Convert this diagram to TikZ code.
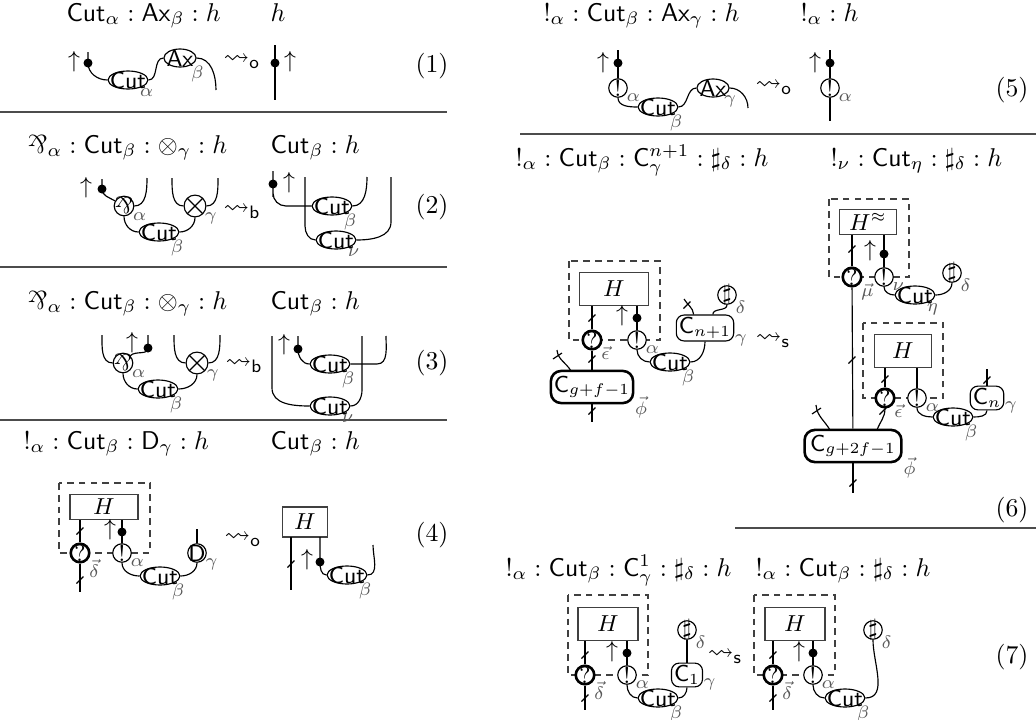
\documentclass[tikz,border=0pt]{standalone}
\usepackage{amsmath,amssymb}
\usepackage{graphicx}
\usetikzlibrary{shapes.geometric,calc}
\newcommand{\prsym}{\mathord{\rotatebox[origin=c]{180}{$\&$}}}
\tikzset{
  wire/.style={line width=0.45pt},
  lab/.style={font=\scriptsize, text=black!65, inner sep=0pt},
  sb/.style={label={[lab]-35:{#1}}},
  sbr/.style={label={[lab]-12:{#1}}},
  cutn/.style={ellipse, draw, fill=white, line width=0.45pt, inner sep=-4pt, minimum width=15.5pt, minimum height=7pt, font=\sffamily\small},
  axn/.style={cutn, minimum width=12.5pt},
  cnode/.style={circle, draw, fill=white, line width=0.45pt, inner sep=-3pt, minimum size=7.2pt, font=\small},
  qnode/.style={cnode, line width=1pt},
  pnode/.style={cnode, minimum size=7.6pt},
  tnode/.style={cnode, minimum size=7.6pt, path picture={\draw[line width=0.45pt] (path picture bounding box.north west) -- (path picture bounding box.south east) (path picture bounding box.south west) -- (path picture bounding box.north east);}},
  dotn/.style={circle, fill, inner sep=0pt, minimum size=3.5pt},
  hbox/.style={rectangle, draw=black!75, line width=0.5pt, inner sep=0pt, font=\small},
  crect/.style={rectangle, rounded corners=3pt, draw, fill=white, line width=0.45pt, inner sep=1pt, minimum height=7.5pt, font=\sffamily\small},
  gcrect/.style={crect, line width=1pt, rounded corners=4pt, minimum height=12.5pt},
  dbox/.style={draw=black!75, line width=0.45pt, dash pattern=on 2.6pt off 2pt},
  ttl/.style={anchor=base west, inner sep=0pt},
  sepl/.style={line width=0.55pt, draw=black!70},
  arr/.style={font=\small, inner sep=0pt},
  slashmk/.pic={\draw[line width=0.45pt] (-3.5,3.5) -- (3.5,-3.5);},
  eqn/.style={inner sep=0pt},
}
\begin{document}
\begin{tikzpicture}[x=0.389pt,y=-0.389pt]
\useasboundingbox (0,0) rectangle (1036,720);
% separators
\draw[sepl] (0,112) -- (447,112);
\draw[sepl] (0,267) -- (447,267);
\draw[sepl] (0,420) -- (447,420);
\draw[sepl] (520,134) -- (1036,134);
\draw[sepl] (735,528) -- (1036,528);

% ---------- (1)
\node[ttl] at (66,21) {$\mathsf{Cut}_\alpha : \mathsf{Ax}_\beta : h$};
\node[ttl] at (270,21) {$h$};
\node[arr] at (74,62) {$\uparrow$};
\node[dotn] (d1) at (88,63) {};
\node[cutn, sb=$\alpha$] (c1) at (128,80) {Cut};
\node[axn, sb=$\beta$] (a1) at (180,58) {Ax};
\draw[wire] (88,52) -- (d1.center) to[out=-90,in=180] (c1.west);
\draw[wire] (c1.east) to[out=0,in=180] (a1.west);
\draw[wire] (a1.east) to[out=0,in=90] (216,90);
\node (lt1) at (242,62) {$\leadsto_{\mathsf{o}}$};
\coordinate (r1t) at (275,45);
\coordinate (r1b) at (275,100);
\draw[wire] (r1t) -- (r1b);
\node[dotn] (d1r) at (275,63) {};
\node[arr] at (290,62) {$\uparrow$};
\node[eqn] at (432,66) {(1)};

% ---------- (2)
\node[ttl] at (27,153) {$\prsym_\alpha : \mathsf{Cut}_\beta : \otimes_\gamma : h$};
\node[ttl] at (270,153) {$\mathsf{Cut}_\beta : h$};
\node[arr] at (86,188) {$\uparrow$};
\node[dotn] (d2) at (102,189) {};
\node[pnode, sb=$\alpha$] (p2) at (124,206) {$\prsym$};
\node[cutn, sb=$\beta$] (c2) at (159,232) {Cut};
\node[tnode, sb=$\gamma$] (t2) at (195,206) {};
\draw[wire] (102,179) -- (d2.center) to[out=-90,in=150] (p2.150);
\draw[wire] (p2.east) to[out=0,in=-90] (147,178);
\draw[wire] (p2.south) to[out=-90,in=180] (c2.west);
\draw[wire] (c2.east) to[out=0,in=-90] (t2.south);
\draw[wire] (172,178) to[out=-90,in=180] (t2.west);
\draw[wire] (t2.east) to[out=0,in=-90] (218,178);
\node at (242,212) {$\leadsto_{\mathsf{b}}$};
\node[dotn] (d2r) at (273,184) {};
\node[arr] at (289,183) {$\uparrow$};
\node[cutn, sb=$\beta$] (c2b) at (332,206) {Cut};
\node[cutn, sb=$\nu$] (c2n) at (336,240) {Cut};
\draw[wire, rounded corners=5] (273,176) -- (d2r.center) |- (c2b.west);
\draw[wire] (305,177) -- (305,226) to[out=-90,in=180] (c2n.west);
\draw[wire] (c2b.east) to[out=0,in=-90] (367,177);
\draw[wire] (c2n.east) to[out=0,in=-90] (391,222) -- (391,177);
\node[eqn] at (432,207) {(2)};

% ---------- (3)
\node[ttl] at (27,309) {$\prsym_\alpha : \mathsf{Cut}_\beta : \otimes_\gamma : h$};
\node[ttl] at (270,309) {$\mathsf{Cut}_\beta : h$};
\node[pnode, sb=$\alpha$] (p3) at (123,363) {$\prsym$};
\node[arr] at (132,343) {$\uparrow$};
\node[dotn] (d3) at (148,348) {};
\node[cutn, sb=$\beta$] (c3) at (158,389) {Cut};
\node[tnode, sb=$\gamma$] (t3) at (197,363) {};
\draw[wire] (148,335) -- (d3.center) to[out=-90,in=45] (p3.45);
\draw[wire] (p3.west) to[out=180,in=-90] (102,335);
\draw[wire] (p3.south) to[out=-90,in=180] (c3.west);
\draw[wire] (c3.east) to[out=0,in=-90] (t3.south);
\draw[wire] (174,335) to[out=-90,in=180] (t3.west);
\draw[wire] (t3.east) to[out=0,in=-90] (220,335);
\node at (244,366) {$\leadsto_{\mathsf{b}}$};
\node[arr] at (284,345) {$\uparrow$};
\node[dotn] (d3r) at (298,349) {};
\node[cutn, sb=$\beta$] (c3b) at (330,364) {Cut};
\node[cutn, sb=$\nu$] (c3n) at (330,406) {Cut};
\draw[wire] (298,336) -- (d3r.center) to[out=-90,in=180] (c3b.west);
\draw[wire] (272,336) -- (272,388) to[out=-90,in=180] (c3n.west);
\draw[wire] (c3b.east) -- (377,364) to[out=0,in=-90] (386,336);
\draw[wire] (c3n.east) to[out=0,in=-90] (362,390) -- (362,336);
\node[eqn] at (432,363) {(3)};

% ---------- (4)
\node[ttl] at (23,449) {$!_\alpha : \mathsf{Cut}_\beta : \mathsf{D}_\gamma : h$};
\node[ttl] at (270,449) {$\mathsf{Cut}_\beta : h$};
\draw[dbox] (59,483) rectangle (150,553);
\node[hbox, minimum width=26.5pt, minimum height=9.7pt] (h4) at (104,507) {$H$};
\node[qnode, sb=$\vec\delta$] (q4) at (80,553) {?};
\node[cnode, sb=$\alpha$] (e4) at (122,553) {!};
\draw[wire] (q4 |- h4.south) -- (q4);
\pic at (80,531) {slashmk};
\node[arr] at (110,530) {$\uparrow$};
\node[dotn] (d4) at (122,532) {};
\draw[wire] (e4 |- h4.south) -- (e4);
\draw[wire] (q4) -- (80,592);
\pic at (80,580) {slashmk};
\node[cutn, sb=$\beta$] (c4) at (160,576) {Cut};
\node[cnode, sb=$\gamma$] (dd4) at (197,553) {$\mathsf{D}$};
\draw[wire] (e4.south) to[out=-90,in=180] (c4.west);
\draw[wire] (c4.east) to[out=0,in=-90] (dd4.south);
\draw[wire] (dd4) -- (197,529);
\node at (243,540) {$\leadsto_{\mathsf{o}}$};
\node[hbox, minimum width=17.5pt, minimum height=11.7pt] (h4r) at (305,522) {$H$};
\node[arr] at (307,560) {$\uparrow$};
\node[dotn] (d4r) at (320,562) {};
\node[cutn, sb=$\beta$] (c4r) at (347,575) {Cut};
\draw[wire] (291,537) -- (291,590);
\pic at (291,564) {slashmk};
\draw[wire] (320,537) -- (d4r.center) to[out=-90,in=180] (c4r.west);
\draw[wire] (c4r.east) to[out=0,in=-90] (373,545);
\node[eqn] at (432,535) {(4)};

% ---------- (5)
\node[ttl] at (543,21) {$!_\alpha : \mathsf{Cut}_\beta : \mathsf{Ax}_\gamma : h$};
\node[ttl] at (800,21) {$!_\alpha : h$};
\node[arr] at (603,63) {$\uparrow$};
\node[dotn] (d5) at (618,63) {};
\node[cnode, sb=$\alpha$] (e5) at (618,88) {!};
\node[cutn, sb=$\beta$] (c5) at (658,107) {Cut};
\node[axn, sb=$\gamma$] (a5) at (713,88) {Ax};
\draw[wire] (618,50) -- (d5.center) -- (e5);
\draw[wire] (e5.south) to[out=-90,in=180] (c5.west);
\draw[wire] (c5.east) to[out=0,in=180] (a5.west);
\draw[wire] (a5.east) to[out=0,in=90] (748,108);
\node at (774,88) {$\leadsto_{\mathsf{o}}$};
\node[arr] at (815,63) {$\uparrow$};
\node[dotn] (d5r) at (830,63) {};
\node[cnode, sb=$\alpha$] (e5r) at (830,88) {!};
\draw[wire] (830,50) -- (d5r.center) -- (e5r);
\draw[wire] (e5r) -- (830,121);
\node[eqn] at (1012,90) {(5)};

% ---------- (6) left
\node[ttl] at (515,166) {$!_\alpha : \mathsf{Cut}_\beta : \mathsf{C}^{n+1}_\gamma : \sharp_\delta : h$};
\node[ttl] at (830,166) {$!_\nu : \mathsf{Cut}_\eta : \sharp_\delta : h$};
\draw[dbox] (569,261) rectangle (660,340);
\node[hbox, minimum width=27pt, minimum height=13pt] (h6) at (614,289) {$H$};
\node[qnode, sb=$\vec\epsilon$] (q6) at (592,340) {?};
\node[cnode, sb=$\alpha$] (e6) at (637,340) {!};
\draw[wire] (q6 |- h6.south) -- (q6);
\pic at (592,318) {slashmk};
\node[arr] at (622,316) {$\uparrow$};
\node[dotn] (d6) at (637,318) {};
\draw[wire] (e6 |- h6.south) -- (e6);
\node[cutn, sb=$\beta$] (c6) at (670,362) {Cut};
\node[crect, sbr=$\gamma$, minimum width=21.4pt] (cn6) at (705,328) {$\mathsf{C}_{n+1}$};
\node[cnode, sb=$\delta$] (sh6) at (727,295) {$\sharp$};
\draw[wire] (e6.south) to[out=-90,in=180] (c6.west);
\draw[wire] (c6.east) to[out=0,in=-90] (cn6.south);
\draw[wire] (cn6.60) to[out=90,in=-90] (sh6.south);
\coordinate (f6a) at (684,299);
\draw[wire] (cn6.130) to[out=95,in=-60] (f6a);
\pic at (687,305) {slashmk};
\node[gcrect, sbr=$\vec\phi$, minimum width=32pt] (g6) at (592,387) {$\mathsf{C}_{g+f-1}$};
\draw[wire] (q6) -- (g6);
\pic at (592,359) {slashmk};
\coordinate (f6b) at (557,350);
\draw[wire] (f6b) to[out=-85,in=120] (571,371);
\draw[wire] (553,359) -- (562,353);
\draw[wire] (g6) -- (592,422);
\pic at (592,411) {slashmk};
\node at (773,341) {$\leadsto_{\mathsf{s}}$};

% ---------- (6) right
\draw[dbox] (829,199) rectangle (909,277);
\node[hbox, minimum width=22pt, minimum height=9.7pt] (hh6) at (868,222) {$H^{\approx}$};
\node[qnode, sb=$\vec\mu$] (q6a) at (852,277) {?};
\node[cnode, sb=$\nu$] (e6a) at (884,277) {!};
\draw[wire] (q6a |- hh6.south) -- (q6a);
\pic at (852,249) {slashmk};
\node[arr] at (870,251) {$\uparrow$};
\node[dotn] (d6a) at (884,254) {};
\draw[wire] (e6a |- hh6.south) -- (e6a);
\node[cutn, sb=$\eta$] (c6a) at (915,295) {Cut};
\node[cnode, sb=$\delta$] (sh6a) at (952,273) {$\sharp$};
\draw[wire] (e6a.south) to[out=-90,in=180] (c6a.west);
\draw[wire] (c6a.east) to[out=0,in=-90] (sh6a.south);
\draw[dbox] (863,323) rectangle (943,398);
\node[hbox, minimum width=22pt, minimum height=12.8pt] (h6b) at (903,351) {$H$};
\node[qnode, sb=$\vec\epsilon$] (q6b) at (885,398) {?};
\node[cnode, sb=$\alpha$] (e6b) at (917,398) {!};
\draw[wire] (q6b |- h6b.south) -- (q6b);
\pic at (885,379) {slashmk};
\draw[wire] (e6b |- h6b.south) -- (e6b);
\node[cutn, sb=$\beta$] (c6b) at (953,417) {Cut};
\node[crect, sbr=$\gamma$, minimum width=11.7pt] (cn6b) at (987,398) {$\mathsf{C}_n$};
\draw[wire] (e6b.south) to[out=-90,in=180] (c6b.west);
\draw[wire] (c6b.east) to[out=0,in=-90] (cn6b.south);
\draw[wire] (cn6b) -- (987,369);
\pic at (987,380) {slashmk};
\node[gcrect, sbr=$\vec\phi$, minimum width=37.7pt] (g6b) at (853,446) {$\mathsf{C}_{g+2f-1}$};
\draw[wire] (q6a) -- (g6b);
\pic at (852,360) {slashmk};
\draw[wire] (q6b.south) to[out=-90,in=70] (877,430);
\pic at (883,411) {slashmk};
\coordinate (f6c) at (816,405);
\draw[wire] (f6c) to[out=-85,in=120] (830,430);
\draw[wire] (812,414) -- (821,408);
\draw[wire] (g6b) -- (853,493);
\pic at (853,483) {slashmk};
\node[eqn] at (1012,510) {(6)};

% ---------- (7)
\node[ttl] at (505,576) {$!_\alpha : \mathsf{Cut}_\beta : \mathsf{C}^{1}_\gamma : \sharp_\delta : h$};
\node[ttl] at (755,576) {$!_\alpha : \mathsf{Cut}_\beta : \sharp_\delta : h$};
\draw[dbox] (568,595) rectangle (648,675);
\node[hbox, minimum width=23.4pt, minimum height=13pt] (h7) at (608,624) {$H$};
\node[qnode, sb=$\vec\delta$] (q7) at (585,675) {?};
\node[cnode, sb=$\alpha$] (e7) at (627,675) {!};
\draw[wire] (q7 |- h7.south) -- (q7);
\pic at (585,655) {slashmk};
\node[arr] at (612,652) {$\uparrow$};
\node[dotn] (d7) at (627,653) {};
\draw[wire] (e7 |- h7.south) -- (e7);
\draw[wire] (q7) -- (585,710);
\pic at (585,698) {slashmk};
\node[cutn, sb=$\beta$] (c7) at (658,698) {Cut};
\node[crect, sbr=$\gamma$, minimum width=7.8pt, minimum height=8.5pt] (cc7) at (687,675) {$\mathsf{C}_1$};
\node[cnode, sb=$\delta$] (sh7) at (687,630) {$\sharp$};
\draw[wire] (e7.south) to[out=-90,in=180] (c7.west);
\draw[wire] (c7.east) to[out=0,in=-90] (cc7.south);
\draw[wire] (cc7) -- (sh7);
\node at (725,657) {$\leadsto_{\mathsf{s}}$};
\draw[dbox] (754,595) rectangle (835,675);
\node[hbox, minimum width=23.4pt, minimum height=13pt] (h7r) at (795,624) {$H$};
\node[qnode, sb=$\vec\delta$] (q7r) at (773,675) {?};
\node[cnode, sb=$\alpha$] (e7r) at (813,675) {!};
\draw[wire] (q7r |- h7r.south) -- (q7r);
\pic at (773,655) {slashmk};
\node[arr] at (799,652) {$\uparrow$};
\node[dotn] (d7r) at (813,653) {};
\draw[wire] (e7r |- h7r.south) -- (e7r);
\draw[wire] (q7r) -- (773,710);
\pic at (773,698) {slashmk};
\node[cutn, sb=$\beta$] (c7r) at (845,698) {Cut};
\node[cnode, sb=$\delta$] (sh7r) at (873,630) {$\sharp$};
\draw[wire] (e7r.south) to[out=-90,in=180] (c7r.west);
\draw[wire] (c7r.east) to[out=0,in=-90] (sh7r.south);
\node[eqn] at (1012,657) {(7)};
\end{tikzpicture}
\end{document}
